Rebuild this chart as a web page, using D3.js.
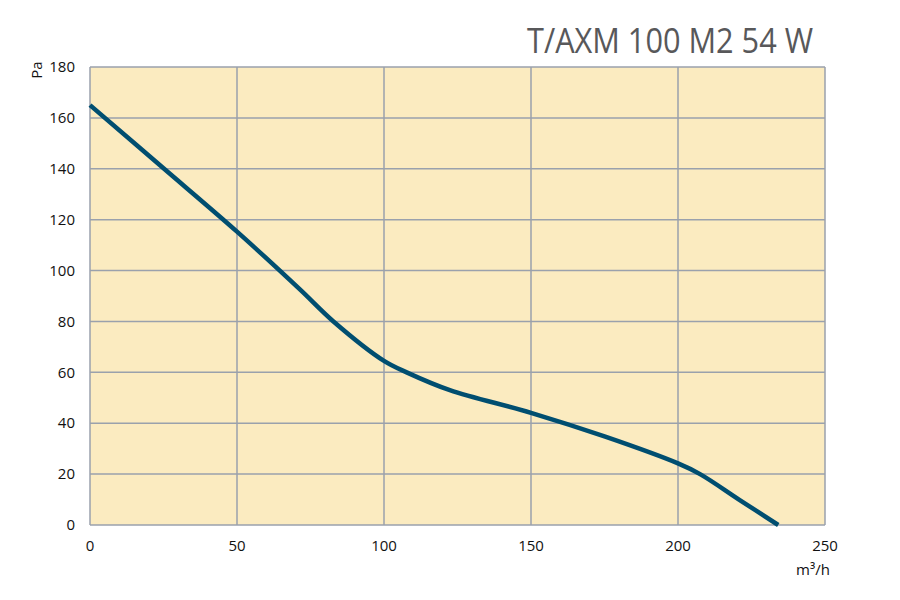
<!DOCTYPE html>
<html><head><meta charset="utf-8">
<script src="https://cdn.jsdelivr.net/npm/d3@7"></script>
<style>body{margin:0;background:#fff}svg{display:block}</style>
</head><body><svg id="c" width="900" height="600"></svg>
<script>
const title = "T/AXM 100 M2 54 W";
const flow = [0, 25, 50, 71.4, 82.8, 100, 107.7, 122.4, 150, 175, 200, 207.5, 221, 234.1];
const pressure = [165, 140.2, 115.3, 92.6, 80, 64.5, 60, 53, 44.1, 34.8, 24.2, 20, 9.8, 0];
const xTicks = [0, 50, 100, 150, 200, 250];
const yTicks = [0, 20, 40, 60, 80, 100, 120, 140, 160, 180];

const svg = d3.select("#c");
const L = 90, R = 825, T = 67, B = 525;
const x = d3.scaleLinear().domain([0, 250]).range([L, R]);
const y = d3.scaleLinear().domain([0, 180]).range([B, T]);
const font = "'Open Sans', 'Noto Sans', sans-serif";

svg.append("rect").attr("x", L).attr("y", T).attr("width", R - L).attr("height", B - T).attr("fill", "#FBEBC0");

svg.append("g").selectAll("line").data(xTicks).join("line")
  .attr("x1", d => x(d)).attr("x2", d => x(d)).attr("y1", T).attr("y2", B)
  .attr("stroke", "#9AA1AC").attr("stroke-width", 1.5);
svg.append("g").selectAll("line").data(yTicks).join("line")
  .attr("x1", L).attr("x2", R).attr("y1", d => y(d)).attr("y2", d => y(d))
  .attr("stroke", "#9AA1AC").attr("stroke-width", 1.5);

const pts = flow.map((f, i) => [f, pressure[i]]);
svg.append("path").datum(pts)
  .attr("d", d3.line().x(d => x(d[0])).y(d => y(d[1])).curve(d3.curveCatmullRom.alpha(0.5)))
  .attr("fill", "none").attr("stroke", "#004E70").attr("stroke-width", 4.5);

svg.append("g").selectAll("text").data(yTicks).join("text")
  .attr("x", 75).attr("y", d => y(d)).attr("dy", "0.35em").attr("text-anchor", "end")
  .attr("font-family", font).attr("font-size", 15).attr("fill", "#111").text(d => d);
svg.append("g").selectAll("text").data(xTicks).join("text")
  .attr("x", d => x(d)).attr("y", 551).attr("text-anchor", "middle")
  .attr("font-family", font).attr("font-size", 15).attr("fill", "#111").text(d => d);

svg.append("text").attr("transform", "translate(42,70) rotate(-90)").attr("text-anchor", "middle")
  .attr("font-family", font).attr("font-size", 15).attr("fill", "#111").text("Pa");
svg.append("text").attr("x", 813).attr("y", 575).attr("text-anchor", "middle")
  .attr("font-family", font).attr("font-size", 15).attr("fill", "#111").text("m³/h");

svg.append("text").attr("x", 527).attr("y", 53).attr("text-anchor", "start")
  .attr("textLength", 286).attr("lengthAdjust", "spacingAndGlyphs")
  .attr("font-family", font).attr("font-size", 35).attr("fill", "#58585A").text(title);
</script></body></html>
